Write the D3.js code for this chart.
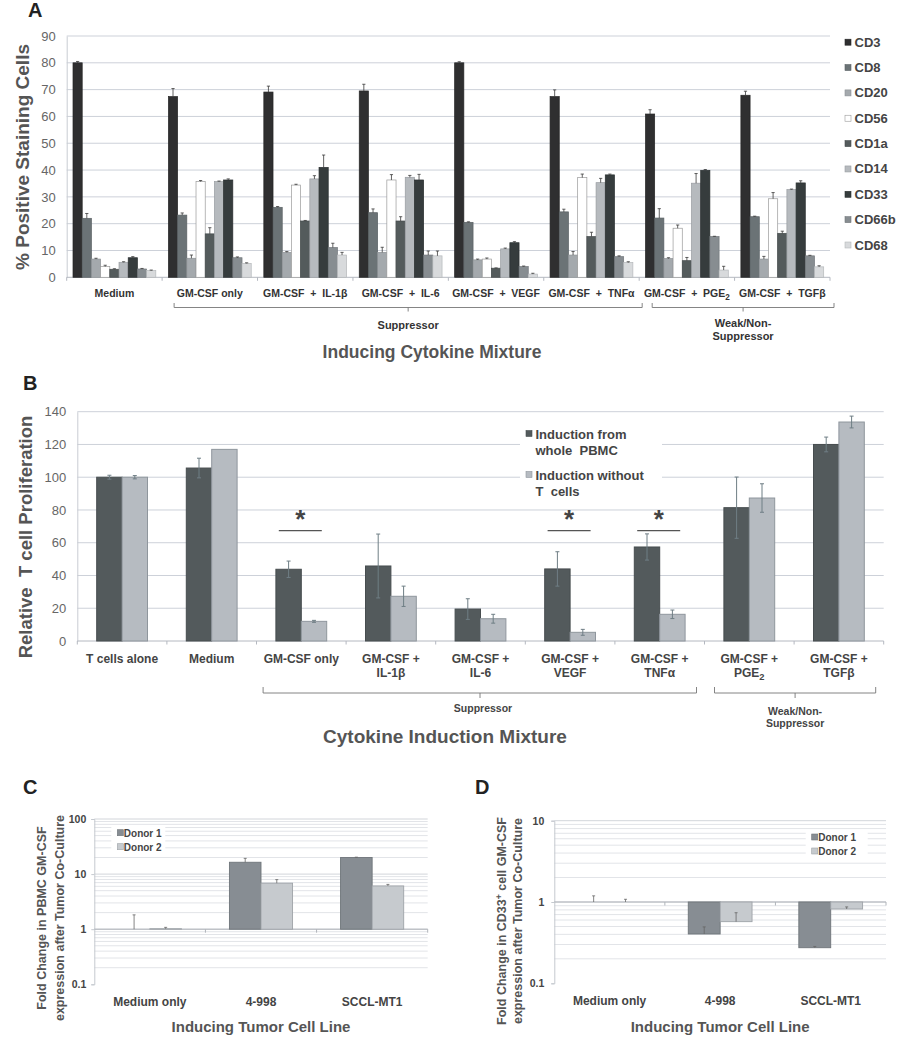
<!DOCTYPE html>
<html><head><meta charset="utf-8">
<script src="https://cdn.jsdelivr.net/npm/d3@7"></script>
<style>body{margin:0;background:#fff} svg{display:block}</style>
</head><body><svg id="c" width="905" height="1050"></svg>
<script>
// ---------- Panel A data ----------
const catsA = ["Medium","GM-CSF only","GM-CSF + IL-1β","GM-CSF + IL-6","GM-CSF + VEGF","GM-CSF + TNFα","GM-CSF + PGE2","GM-CSF + TGFβ"];
const markersA = ["CD3","CD8","CD20","CD56","CD1a","CD14","CD33","CD66b","CD68"];
const cd3    = [80, 67.4, 69.1, 69.5, 80, 67.4, 60.9, 67.9];
const cd3Err = [0.5, 3, 2.2, 2.5, 0.4, 2.5, 1.6, 1.5];
const cd8    = [22, 23.2, 26.1, 24.1, 20.5, 24.4, 22.1, 22.6];
const cd8Err = [1.8, 0.8, 0.3, 1.4, 0.2, 1, 3.5, 0.2];
const cd20   = [6.8, 7.1, 9.3, 9.3, 6.5, 8.3, 7, 6.8];
const cd20Err= [0.3, 1.2, 0.3, 1.9, 0.3, 1.3, 0.3, 1];
const cd56   = [4, 35.7, 34.4, 36.3, 6.8, 37.2, 18.3, 29.3];
const cd56Err= [0.5, 0.4, 0.3, 2, 0.4, 1.3, 1.2, 2.3];
const cd1a   = [3, 16.2, 21, 21, 3.4, 15.2, 6.2, 16.4];
const cd1aErr= [0.2, 2.3, 0.2, 1.6, 0.1, 1.6, 1.2, 0.8];
const cd14   = [5.6, 35.7, 36.7, 37.3, 10.6, 35.3, 35.1, 32.7];
const cd14Err= [0.2, 0.2, 1.2, 0.7, 0.3, 1.6, 3.6, 0.2];
const cd33   = [7.3, 36.3, 41, 36.3, 12.9, 38.2, 39.9, 35.2];
const cd33Err= [0.4, 0.4, 4.6, 2.1, 0.4, 0.3, 0.3, 0.8];
const cd66b  = [3.1, 7.3, 11.1, 8.3, 4, 7.7, 15.2, 8];
const cd66bErr=[0.2, 0.3, 1.6, 1.5, 0.2, 0.3, 0.1, 0.2];
const cd68   = [2.5, 5.2, 8.3, 8, 1.2, 5.5, 2.7, 3.9];
const cd68Err= [0.2, 0.2, 1, 1.8, 0.3, 0.3, 1.4, 0.4];
const ticksA = [0,10,20,30,40,50,60,70,80,90];
const groupsA = [{label:"Suppressor", from:"GM-CSF only", to:"GM-CSF + TNFα"},
                 {label:"Weak/Non-\nSuppressor", from:"GM-CSF + PGE2", to:"GM-CSF + TGFβ"}];

// ---------- Panel B data ----------
const catsB = ["T cells alone","Medium","GM-CSF only","GM-CSF +\nIL-1β","GM-CSF +\nIL-6","GM-CSF +\nVEGF","GM-CSF +\nTNFα","GM-CSF +\nPGE2","GM-CSF +\nTGFβ"];
const seriesB = ["Induction from\nwhole  PBMC","Induction without\nT  cells"];
const wholePBMC    = [100, 105.6, 43.8, 45.8, 19.5, 44, 57.4, 81.4, 120];
const wholePBMCErr = [1.2, 6, 5, 19.5, 6.3, 10.5, 8, 18.7, 4.5];
const withoutT     = [100, 117, 12, 27.3, 13.6, 5.3, 16.3, 87.3, 133.7];
const withoutTErr  = [1, 0, 0.6, 6.2, 2.7, 1.8, 2.6, 8.7, 3.6];
const significantB = ["GM-CSF only","GM-CSF +\nVEGF","GM-CSF +\nTNFα"];
const sigLevelB = 67.4;
const ticksB = [0,20,40,60,80,100,120,140];
const groupsB = [{label:"Suppressor", from:"GM-CSF only", to:"GM-CSF +\nTNFα"},
                 {label:"Weak/Non-\nSuppressor", from:"GM-CSF +\nPGE2", to:"GM-CSF +\nTGFβ"}];

// ---------- Panels C / D data ----------
const catsCD = ["Medium only","4-998","SCCL-MT1"];
const donors = ["Donor 1","Donor 2"];
const cDonor1 = [1, 16.4, 20];
const cDonor1Err = [0.82, 2.9, 0.3];
const cDonor2 = [1.02, 6.84, 6.1];
const cDonor2Err = [0.06, 1.1, 0.4];
const dDonor1 = [1, 0.404, 0.274];
const dDonor1Err = [0.19, 0.09, 0.01];
const dDonor2 = [1, 0.573, 0.82];
const dDonor2Err = [0.08, 0.165, 0.05];
const ticksC = [0.1, 1, 10, 100];
const ticksD = [0.1, 1, 10];

// ---------- styles ----------
const F = '"Liberation Sans", Arial, Helvetica, sans-serif';
const FN = '"Liberation Sans Narrow", "Arial Narrow", "Liberation Sans", sans-serif';
const colorsA = ["#2f2f30","#6b7376","#a4a9ad","#ffffff","#545b5c","#b6babe","#363c3d","#878d91","#d8dadc"];
const strokesA = ["#262626","#5a6164","#8d9296","#9a9a9a","#454b4c","#999da1","#2a2f30","#72777b","#b5b8bb"];
const colorsB = ["#535a5c","#b6bbc1"], strokesB = ["#474d4f","#8f969d"];
const colorsCD = ["#878d93","#c6cace"], strokesCD = ["#6f757a","#9ea3a8"];
const GRID = "#cdd1d9";

const svg = d3.select("#c");

function richText(sel, str) {
  const m = str.match(/^(.*PGE)2$/);
  if (m) {
    sel.append("tspan").text(m[1]);
    sel.append("tspan").attr("dy", 3).attr("font-size", "78%").text("2");
  } else sel.append("tspan").text(str);
}
function txt(g, x, y, s, size, opts = {}) {
  const t = g.append("text").attr("x", x).attr("y", y)
    .attr("font-family", opts.family || F).attr("font-size", size)
    .attr("font-weight", opts.weight || "bold").attr("fill", opts.fill || "#444")
    .attr("text-anchor", opts.anchor || "middle").style("white-space", "pre");
  if (opts.rotate) t.attr("transform", `rotate(-90 ${x} ${y})`);
  richText(t, s);
  return t;
}

// =============== PANEL A ===============
(function(){
  const g = svg.append("g");
  const x = d3.scaleBand().domain(catsA).range([66.7, 830]);
  const xi = d3.scaleBand().domain(markersA).range([6.3, x.bandwidth() - 6.3]);
  const y = d3.scaleLinear().domain([0, 90]).range([277.3, 36]);
  const vals = [cd3, cd8, cd20, cd56, cd1a, cd14, cd33, cd66b, cd68];
  const errs = [cd3Err, cd8Err, cd20Err, cd56Err, cd1aErr, cd14Err, cd33Err, cd66bErr, cd68Err];

  g.selectAll(".grid").data(ticksA.filter(d => d > 0)).join("line")
    .attr("x1", 66.7).attr("x2", 830).attr("y1", d => y(d)).attr("y2", d => y(d))
    .attr("stroke", GRID).attr("stroke-width", 1);
  const ax = g.append("g").attr("transform", "translate(66.7,0)")
    .call(d3.axisLeft(y).tickValues(ticksA).tickSize(0).tickPadding(11));
  ax.select(".domain").attr("stroke", "#c9ccd3");
  ax.selectAll("text").attr("font-family", F).attr("font-size", 13).attr("fill", "#666");
  g.append("line").attr("x1", 66.7).attr("x2", 830).attr("y1", y(0)).attr("y2", y(0)).attr("stroke", "#b4b8c0");
  const bounds = catsA.map(c => x(c)).concat([x.range()[1]]);
  g.selectAll(".tk").data(bounds).join("line").attr("x1", d => d).attr("x2", d => d)
    .attr("y1", y(0)).attr("y2", y(0) + 3.5).attr("stroke", "#b4b8c0");

  markersA.forEach((m, i) => {
    catsA.forEach((c, j) => {
      const v = vals[i][j], e = errs[i][j];
      const bx = x(c) + xi(m), w = xi.bandwidth();
      g.append("rect").attr("x", bx).attr("y", y(v)).attr("width", w).attr("height", y(0) - y(v))
        .attr("fill", colorsA[i]).attr("stroke", strokesA[i]).attr("stroke-width", 0.7);
      const cx = bx + w / 2;
      g.append("line").attr("x1", cx).attr("x2", cx).attr("y1", y(v)).attr("y2", y(v + e)).attr("stroke", "#3a3a3a").attr("stroke-width", 0.8);
      g.append("line").attr("x1", cx - 1.6).attr("x2", cx + 1.6).attr("y1", y(v + e)).attr("y2", y(v + e)).attr("stroke", "#3a3a3a").attr("stroke-width", 0.8);
    });
  });

  // category labels
  catsA.forEach(c => txt(g, x(c) + x.bandwidth() / 2, 297, c.replace(" + ", "  +  "), 10.5, {family: FN, fill: "#333"}));
  // brackets
  groupsA.forEach((gr, k) => {
    const x0 = x(gr.from) + (k === 0 ? 12 : 13);
    const x1 = x(gr.to) + x.bandwidth() + (k === 0 ? 3 : 4);
    const mid = (x0 + x1) / 2;
    g.append("path").attr("d", `M${x0},303 V307.5 H${x1} V303 M${mid},307.5 V311.5`)
      .attr("fill", "none").attr("stroke", "#777").attr("stroke-width", 0.9);
    gr.label.split("\n").forEach((s, li) => txt(g, mid, (k === 0 ? 329 : 327) + li * 13, s, 11, {family: FN, fill: "#333"}));
  });
  txt(g, 432, 358, "Inducing Cytokine Mixture", 17.5, {fill: "#555"});
  txt(g, 22, 157, "% Positive Staining Cells", 19, {rotate: true, fill: "#555"}).attr("dy", 6.5);
  txt(g, 28, 17, "A", 20, {anchor: "start", fill: "#222"});

  // legend
  markersA.forEach((m, i) => {
    const ly = 46.7 + i * 25.35;
    g.append("rect").attr("x", 845).attr("y", ly - 7.5).attr("width", 6).attr("height", 6)
      .attr("fill", colorsA[i]).attr("stroke", strokesA[i]).attr("stroke-width", 0.6);
    txt(g, 854.5, ly, m, 13, {anchor: "start", fill: "#444"});
  });
})();

// =============== PANEL B ===============
(function(){
  const g = svg.append("g");
  const x = d3.scaleBand().domain(catsB).range([77.3, 883.7]);
  const xi = d3.scaleBand().domain(seriesB).range([19.4, x.bandwidth() - 19.4]);
  const y = d3.scaleLinear().domain([0, 140]).range([641, 411.7]);
  const vals = [wholePBMC, withoutT], errs = [wholePBMCErr, withoutTErr];

  g.selectAll(".grid").data(ticksB.filter(d => d > 0)).join("line")
    .attr("x1", 77.3).attr("x2", 883.7).attr("y1", d => y(d)).attr("y2", d => y(d))
    .attr("stroke", GRID).attr("stroke-width", 1);
  const ax = g.append("g").attr("transform", "translate(77.3,0)")
    .call(d3.axisLeft(y).tickValues(ticksB).tickSize(0).tickPadding(11));
  ax.select(".domain").attr("stroke", "#c9ccd3");
  ax.selectAll("text").attr("font-family", F).attr("font-size", 13).attr("fill", "#666");
  g.append("line").attr("x1", 77.3).attr("x2", 883.7).attr("y1", y(0)).attr("y2", y(0)).attr("stroke", "#b4b8c0");
  const bounds = catsB.map(c => x(c)).concat([x.range()[1]]);
  g.selectAll(".tk").data(bounds).join("line").attr("x1", d => d).attr("x2", d => d)
    .attr("y1", y(0)).attr("y2", y(0) + 3.5).attr("stroke", "#b4b8c0");

  seriesB.forEach((s, i) => {
    catsB.forEach((c, j) => {
      const v = vals[i][j], e = errs[i][j];
      const bx = x(c) + xi(s), w = xi.bandwidth();
      g.append("rect").attr("x", bx).attr("y", y(v)).attr("width", w).attr("height", y(0) - y(v))
        .attr("fill", colorsB[i]).attr("stroke", strokesB[i]).attr("stroke-width", 1);
      if (e > 0) {
        const cx = bx + w / 2;
        g.append("line").attr("x1", cx).attr("x2", cx).attr("y1", y(v - e)).attr("y2", y(v + e)).attr("stroke", "#6f7e85").attr("stroke-width", 1);
        [v - e, v + e].forEach(t => g.append("line").attr("x1", cx - 2).attr("x2", cx + 2).attr("y1", y(t)).attr("y2", y(t)).attr("stroke", "#6f7e85").attr("stroke-width", 1));
      }
    });
  });

  // significance
  significantB.forEach(c => {
    const cx = x(c) + x.bandwidth() / 2 - 1;
    g.append("line").attr("x1", cx - 21.5).attr("x2", cx + 21.5).attr("y1", y(sigLevelB)).attr("y2", y(sigLevelB))
      .attr("stroke", "#555").attr("stroke-width", 1.3);
    txt(g, cx, y(sigLevelB) - 3, "*", 26, {fill: "#444"});
  });

  // legend
  g.append("rect").attr("x", 520).attr("y", 418).attr("width", 142).attr("height", 82).attr("fill", "#fff");
  seriesB.forEach((s, i) => {
    const by = 439 + i * 41;
    g.append("rect").attr("x", 526).attr("y", by - 8.5).attr("width", 6).attr("height", 6)
      .attr("fill", colorsB[i]).attr("stroke", strokesB[i]).attr("stroke-width", 0.6);
    s.split("\n").forEach((line, li) => txt(g, 535.5, by + li * 15.7, line, 13, {anchor: "start", fill: "#444"}));
  });

  // category labels
  catsB.forEach(c => {
    c.split("\n").forEach((line, li) => txt(g, x(c) + x.bandwidth() / 2, 663 + li * 14, line, 12, {fill: "#444"}));
  });
  // brackets
  groupsB.forEach((gr, k) => {
    const x0 = x(gr.from) + (k === 0 ? 6.6 : 10);
    const x1 = x(gr.to) + x.bandwidth() - 8;
    const mid = k === 0 ? 480 : (x0 + x1) / 2;
    g.append("path").attr("d", `M${x0},687 V693 H${x1} V687 M${mid},693 V698`)
      .attr("fill", "none").attr("stroke", "#777").attr("stroke-width", 0.9);
    gr.label.split("\n").forEach((s, li) => txt(g, k === 0 ? mid + 3 : mid, (k === 0 ? 712 : 714.5) + li * 12.3, s, 10.5, {fill: "#444"}));
  });
  txt(g, 445, 743, "Cytokine Induction Mixture", 19, {fill: "#555"});
  txt(g, 25, 537, "Relative  T cell Proliferation", 18.5, {rotate: true, fill: "#555"}).attr("dy", 6.5);
  txt(g, 23, 390, "B", 20, {anchor: "start", fill: "#222"});
})();

// =============== PANELS C & D ===============
function logPanel(opt) {
  const g = svg.append("g");
  const x = d3.scaleBand().domain(catsCD).range([opt.x0, opt.x1]);
  const xi = d3.scaleBand().domain(donors).range([opt.inner, x.bandwidth() - opt.inner]);
  const y = d3.scaleLog().domain(opt.domain).range([opt.yb, opt.yt]);
  const minor = [];
  for (let dec = opt.domain[0]; dec < opt.domain[1] - 1e-9; dec *= 10)
    for (let k = 1; k <= 10; k++) minor.push(+(dec * k).toPrecision(3));
  const uniq = Array.from(new Set(minor)).filter(v => v > opt.domain[0] + 1e-9);
  g.selectAll(".grid").data(uniq).join("line")
    .attr("x1", opt.x0).attr("x2", opt.x1).attr("y1", d => y(d)).attr("y2", d => y(d))
    .attr("stroke", d => opt.ticks.includes(d) ? "#d2d5da" : "#e2e4e8").attr("stroke-width", 1);
  const ax = g.append("g").attr("transform", `translate(${opt.x0},0)`)
    .call(d3.axisLeft(y).tickValues(opt.ticks).tickFormat(d3.format("~g")).tickSize(3).tickPadding(opt.pad));
  ax.select(".domain").attr("stroke", "#c5c9cf");
  ax.selectAll(".tick line").attr("stroke", "#c5c9cf");
  ax.selectAll("text").attr("font-family", F).attr("font-size", 10.5).attr("font-weight", "bold").attr("fill", "#444");
  g.append("line").attr("x1", opt.x0).attr("x2", opt.x1).attr("y1", y(1)).attr("y2", y(1)).attr("stroke", "#b0b4ba");
  const bounds = catsCD.slice(1).map(c => x(c)).concat([opt.x1]);
  g.selectAll(".tk").data(bounds).join("line").attr("x1", d => d).attr("x2", d => d)
    .attr("y1", y(1)).attr("y2", y(1) + 3.5).attr("stroke", "#b0b4ba");

  donors.forEach((dn, i) => {
    catsCD.forEach((c, j) => {
      const v = opt.vals[i][j], e = opt.errs[i][j];
      const bx = x(c) + xi(dn), w = xi.bandwidth();
      const top = Math.min(y(v), y(1)), h = Math.abs(y(v) - y(1));
      g.append("rect").attr("x", bx).attr("y", top).attr("width", w).attr("height", h)
        .attr("fill", colorsCD[i]).attr("stroke", strokesCD[i]).attr("stroke-width", 0.9);
      const cx = bx + w / 2;
      g.append("line").attr("x1", cx).attr("x2", cx).attr("y1", y(v)).attr("y2", y(v + e)).attr("stroke", "#666").attr("stroke-width", 0.8);
      g.append("line").attr("x1", cx - 1.5).attr("x2", cx + 1.5).attr("y1", y(v + e)).attr("y2", y(v + e)).attr("stroke", "#666").attr("stroke-width", 0.8);
    });
  });

  // legend
  g.append("rect").attr("x", opt.lx - 6).attr("y", opt.ly - 10).attr("width", opt.lw).attr("height", 28).attr("fill", "#fff");
  donors.forEach((dn, i) => {
    const by = opt.ly + i * 14;
    g.append("rect").attr("x", opt.lx).attr("y", by - 7).attr("width", 6).attr("height", 6)
      .attr("fill", colorsCD[i]).attr("stroke", strokesCD[i]).attr("stroke-width", 0.6);
    txt(g, opt.lx + 6.5, by, dn, 10, {anchor: "start", fill: "#444"});
  });

  catsCD.forEach(c => txt(g, x(c) + x.bandwidth() / 2, opt.catY, c, 12, {fill: "#444"}));
  txt(g, (opt.x0 + opt.x1) / 2, 1032, "Inducing Tumor Cell Line", 15, {fill: "#555"});
  opt.ytitle.forEach((s, li) => {
    const t = txt(g, opt.tx[li], opt.ty, "", 12.5, {rotate: true, fill: "#555"}).attr("dy", 4.5);
    t.selectAll("tspan").remove();
    if (s.includes("CD33+")) {
      const parts = s.split("CD33+");
      t.append("tspan").text(parts[0] + "CD33");
      t.append("tspan").attr("dy", -4).attr("font-size", "70%").text("+");
      t.append("tspan").attr("dy", 4).text(parts[1]);
    } else t.append("tspan").text(s);
  });
  txt(g, opt.labelX, 794, opt.label, 20, {anchor: "start", fill: "#222"});
}

logPanel({
  x0: 94.3, x1: 427.7, inner: 24, domain: [0.1, 100], yb: 984.3, yt: 819, ticks: ticksC, pad: 5,
  vals: [cDonor1, cDonor2], errs: [cDonor1Err, cDonor2Err],
  lx: 117.3, ly: 836.7, lw: 54, catY: 1006,
  ytitle: ["Fold Change in PBMC GM-CSF", "expression after Tumor Co-Culture"], tx: [41.7, 59.5], ty: 918,
  label: "C", labelX: 23
});
logPanel({
  x0: 554.3, x1: 886, inner: 23.4, domain: [0.1, 10], yb: 983.3, yt: 820.7, ticks: ticksD, pad: 7,
  vals: [dDonor1, dDonor2], errs: [dDonor1Err, dDonor2Err],
  lx: 811.7, ly: 841, lw: 62, catY: 1004.5,
  ytitle: ["Fold Change in CD33+ cell GM-CSF", "expression after Tumor Co-Culture"], tx: [501.5, 517], ty: 921,
  label: "D", labelX: 475
});
</script>
</body></html>
